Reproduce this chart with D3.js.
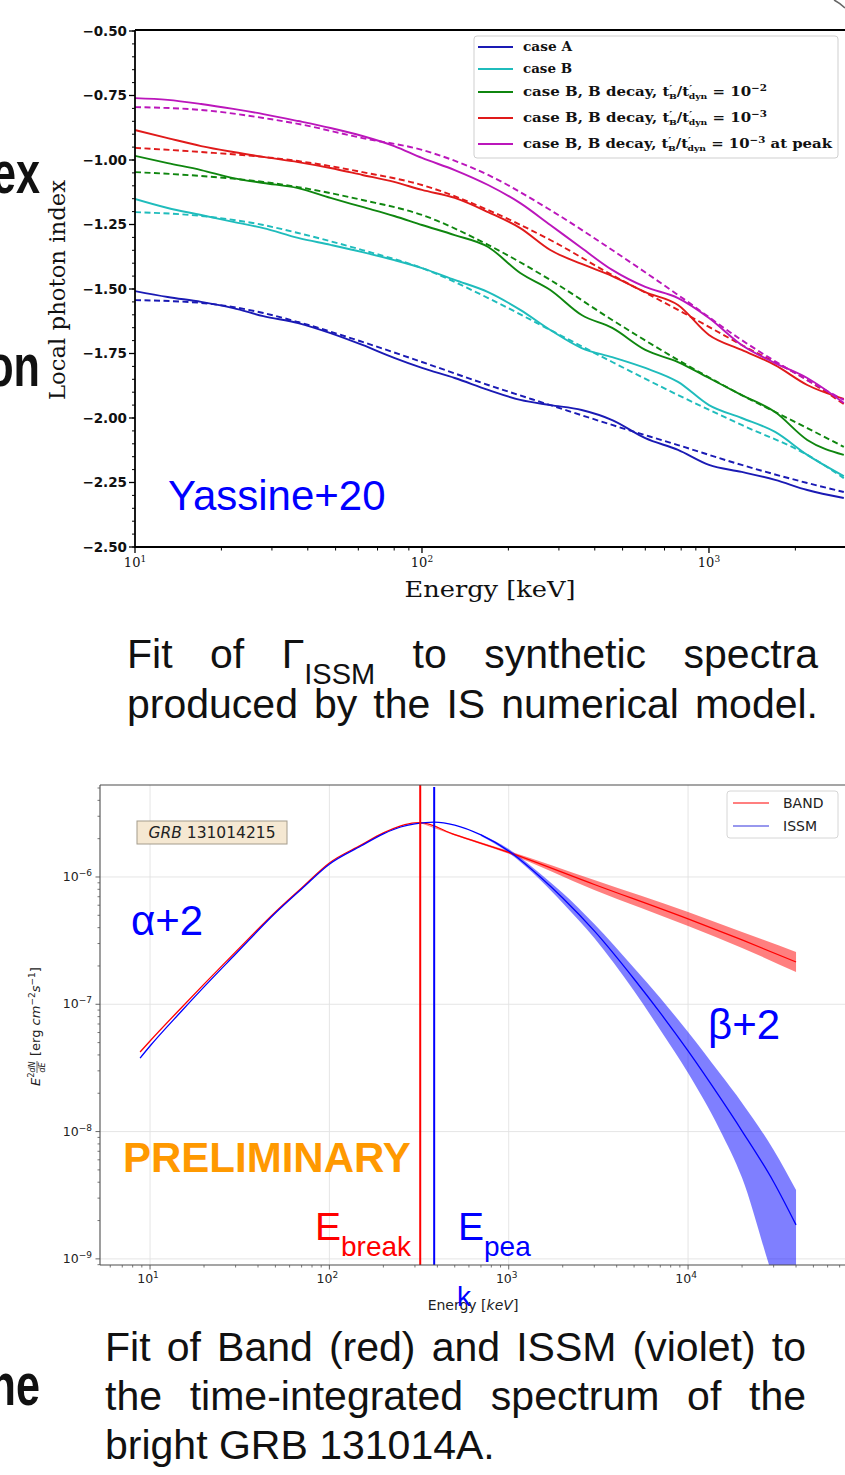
<!DOCTYPE html>
<html>
<head>
<meta charset="utf-8">
<script src="https://cdn.jsdelivr.net/npm/d3@7"></script>
<style>
  body { margin: 0; background: #fff; }
  svg { display: block; }
</style>
</head>
<body>
<svg id="page" width="845" height="1475"></svg>
<script>
// ---------------- Top panel data: local photon index vs energy (keV) ----------------
const simEnergies = [10, 13, 17, 22, 28, 37, 48, 62, 80, 100, 130, 170, 220, 280, 360, 460, 600, 780, 1000, 1300, 1700, 2200, 2950];
const caseA_sim      = [-1.508,-1.531,-1.550,-1.574,-1.605,-1.632,-1.671,-1.717,-1.767,-1.806,-1.845,-1.891,-1.930,-1.950,-1.969,-2.008,-2.078,-2.124,-2.182,-2.209,-2.240,-2.279,-2.310];
const caseB_sim      = [-1.151,-1.186,-1.213,-1.240,-1.264,-1.302,-1.329,-1.357,-1.388,-1.419,-1.465,-1.512,-1.581,-1.659,-1.729,-1.764,-1.806,-1.860,-1.950,-2.000,-2.054,-2.143,-2.225];
const decay2_sim     = [-0.984,-1.012,-1.039,-1.070,-1.089,-1.109,-1.147,-1.182,-1.217,-1.252,-1.291,-1.337,-1.438,-1.504,-1.601,-1.651,-1.736,-1.783,-1.845,-1.911,-1.977,-2.085,-2.143];
const decay3_sim     = [-0.884,-0.915,-0.946,-0.969,-0.988,-1.008,-1.031,-1.058,-1.085,-1.116,-1.147,-1.202,-1.264,-1.349,-1.403,-1.450,-1.512,-1.562,-1.678,-1.736,-1.795,-1.872,-1.926];
const decay3peak_sim = [-0.760,-0.767,-0.783,-0.802,-0.822,-0.849,-0.876,-0.907,-0.946,-0.992,-1.039,-1.097,-1.167,-1.252,-1.341,-1.426,-1.492,-1.535,-1.612,-1.717,-1.787,-1.845,-1.942];

const fitEnergies = [10, 17, 28, 37, 62, 100, 170, 280, 460, 780, 1300, 2200, 2950];
const caseA_fit      = [-1.543,-1.554,-1.593,-1.628,-1.705,-1.783,-1.872,-1.950,-2.027,-2.105,-2.182,-2.252,-2.287];
const caseB_fit      = [-1.202,-1.217,-1.252,-1.283,-1.349,-1.419,-1.535,-1.659,-1.783,-1.911,-2.027,-2.143,-2.233];
const decay2_fit     = [-1.047,-1.062,-1.085,-1.105,-1.155,-1.213,-1.329,-1.465,-1.620,-1.775,-1.911,-2.039,-2.112];
const decay3_fit     = [-0.953,-0.969,-0.988,-1.004,-1.047,-1.097,-1.194,-1.310,-1.446,-1.581,-1.717,-1.853,-1.946];
const decay3peak_fit = [-0.795,-0.806,-0.837,-0.860,-0.915,-0.961,-1.058,-1.194,-1.349,-1.523,-1.698,-1.853,-1.930];

const indexTicks = [-2.5, -2.25, -2.0, -1.75, -1.5, -1.25, -1.0, -0.75, -0.5];
const topEnergyTicks = [10, 100, 1000];

// ---------------- Bottom panel data: E^2 dN/dE (erg cm^-2 s^-1) vs energy (keV) ----------------
const bandEnergies = [8.8, 10, 15, 20, 30, 50, 70, 100, 150, 200, 250, 300, 321, 500, 1000, 3000, 10000, 20000, 40000];
const bandFlux     = [4.22e-8, 5.15e-8, 9.44e-8, 1.44e-7, 2.58e-7, 5.31e-7, 8.2e-7, 1.29e-6, 1.78e-6, 2.22e-6, 2.52e-6, 2.66e-6, 2.67e-6, 2.15e-6, 1.56e-6, 8.73e-7, 4.68e-7, 3.20e-7, 2.15e-7];
const bandErrEnergies = [321, 500, 1000, 3000, 10000, 20000, 40000];
const bandLow  = [2.65e-6, 2.12e-6, 1.52e-6, 7.9e-7, 4.12e-7, 2.77e-7, 1.79e-7];
const bandHigh = [2.69e-6, 2.18e-6, 1.60e-6, 9.47e-7, 5.31e-7, 3.70e-7, 2.58e-7];

const issmEnergies = [8.8, 10, 15, 20, 30, 50, 70, 100, 150, 200, 250, 300, 384, 500, 700, 1000, 1500, 2000, 3000, 5000, 7000, 10000, 15000, 20000, 30000, 40000];
const issmFlux     = [3.78e-8, 4.70e-8, 8.85e-8, 1.37e-7, 2.48e-7, 5.21e-7, 8.05e-7, 1.26e-6, 1.75e-6, 2.18e-6, 2.47e-6, 2.61e-6, 2.70e-6, 2.56e-6, 2.14e-6, 1.60e-6, 1.00e-6, 6.84e-7, 3.77e-7, 1.58e-7, 8.55e-8, 4.30e-8, 1.87e-8, 1.01e-8, 4.02e-9, 1.85e-9];
const issmErrEnergies = [700, 1000, 1500, 2000, 3000, 5000, 7000, 10000, 15000, 20000, 30000, 40000];
const issmLow  = [2.10e-6, 1.55e-6, 9.47e-7, 6.25e-7, 3.32e-7, 1.27e-7, 6.28e-8, 2.88e-8, 1.04e-8, 4.33e-9, 7.0e-10, 2.5e-10];
const issmHigh = [2.18e-6, 1.66e-6, 1.06e-6, 7.48e-7, 4.27e-7, 1.93e-7, 1.12e-7, 6.05e-8, 2.88e-8, 1.68e-8, 7.16e-9, 3.47e-9];

const eBreak = 321;   // keV
const ePeak = 384;    // keV
const fluxTicks = [1e-9, 1e-8, 1e-7, 1e-6];
const bottomEnergyTicks = [10, 100, 1000, 10000];

// ---------------- fonts ----------------
const SANS = "'Liberation Sans', Arial, sans-serif";
const SERIF = "'DejaVu Serif', serif";
const DVS = "'DejaVu Sans', sans-serif";

const svg = d3.select("#page");
const defs = svg.append("defs");
const zip = (xs, ys) => xs.map((x, i) => [x, ys[i]]);

// ============================ TOP PANEL ============================
const xTop = d3.scaleLog().domain([10, 3000]).range([135, 845.9]);
const yTop = d3.scaleLinear().domain([-2.5, -0.5]).range([547, 31]);
const [tx0] = xTop.range();
const [ty1, ty0] = yTop.range();

defs.append("clipPath").attr("id", "clipTop").append("rect")
  .attr("x", tx0).attr("y", ty0).attr("width", 845 - tx0).attr("height", ty1 - ty0);

const topSeries = [
  { name: "case A", color: "#1a1ab4", sim: caseA_sim, fit: caseA_fit },
  { name: "case B", color: "#1fbcbc", sim: caseB_sim, fit: caseB_fit },
  { name: "decay2", color: "#0f860f", sim: decay2_sim, fit: decay2_fit },
  { name: "decay3", color: "#e01a1a", sim: decay3_sim, fit: decay3_fit },
  { name: "decay3peak", color: "#bb16bb", sim: decay3peak_sim, fit: decay3peak_fit }
];

const topLine = d3.line().x(d => xTop(d[0])).y(d => yTop(d[1])).curve(d3.curveMonotoneX);
const topCurves = svg.append("g").attr("clip-path", "url(#clipTop)");
topSeries.forEach(s => {
  topCurves.append("path").attr("d", topLine(zip(simEnergies, s.sim)))
    .attr("fill", "none").attr("stroke", s.color).attr("stroke-width", 1.9);
  topCurves.append("path").attr("d", topLine(zip(fitEnergies, s.fit)))
    .attr("fill", "none").attr("stroke", s.color).attr("stroke-width", 1.9)
    .attr("stroke-dasharray", "6,3.5");
});

// spines
const topAxes = svg.append("g").attr("stroke", "#000").attr("stroke-width", 1.8);
topAxes.append("line").attr("x1", tx0).attr("x2", tx0).attr("y1", ty0 - 1).attr("y2", ty1 + 1);
topAxes.append("line").attr("x1", tx0).attr("x2", 845).attr("y1", ty1).attr("y2", ty1);
topAxes.append("line").attr("x1", tx0).attr("x2", 845).attr("y1", ty0 - 1).attr("y2", ty0 - 1);

// y ticks
const yMinor = d3.range(-2.5, -0.499, 0.05);
svg.append("g").selectAll("line").data(yMinor).join("line")
  .attr("x1", tx0 - 3).attr("x2", tx0).attr("y1", d => yTop(d)).attr("y2", d => yTop(d))
  .attr("stroke", "#000").attr("stroke-width", 1);
svg.append("g").selectAll("line").data(indexTicks).join("line")
  .attr("x1", tx0 - 6).attr("x2", tx0).attr("y1", d => yTop(d)).attr("y2", d => yTop(d))
  .attr("stroke", "#000").attr("stroke-width", 1.3);
svg.append("g").selectAll("text").data(indexTicks).join("text")
  .attr("x", tx0 - 8).attr("y", d => yTop(d)).attr("dy", "0.36em")
  .attr("text-anchor", "end").attr("font-family", DVS).attr("font-weight", "bold")
  .attr("font-size", 13.5).attr("fill", "#111")
  .text(d3.format(".2f"));

// x ticks (log)
const topMinor = [];
[10, 100, 1000].forEach(dec => d3.range(2, 10).forEach(k => { if (dec * k <= 3000) topMinor.push(dec * k); }));
svg.append("g").selectAll("line").data(topMinor).join("line")
  .attr("x1", d => xTop(d)).attr("x2", d => xTop(d)).attr("y1", ty1).attr("y2", ty1 + 3.5)
  .attr("stroke", "#000").attr("stroke-width", 1);
svg.append("g").selectAll("line").data(topEnergyTicks).join("line")
  .attr("x1", d => xTop(d)).attr("x2", d => xTop(d)).attr("y1", ty1).attr("y2", ty1 + 6)
  .attr("stroke", "#000").attr("stroke-width", 1.3);
const topXLabels = svg.append("g").selectAll("text").data(topEnergyTicks).join("text")
  .attr("x", d => xTop(d)).attr("y", 567).attr("text-anchor", "middle")
  .attr("font-family", SERIF).attr("font-size", 13).attr("fill", "#111");
topXLabels.append("tspan").text("10");
topXLabels.append("tspan").attr("dy", -5).attr("font-size", 9).text(d => Math.round(Math.log10(d)));

// axis titles
svg.append("text").attr("x", 490).attr("y", 597).attr("text-anchor", "middle")
  .attr("font-family", SERIF).attr("font-size", 23).attr("fill", "#111")
  .attr("textLength", 171).attr("lengthAdjust", "spacingAndGlyphs").text("Energy [keV]");
svg.append("text").attr("transform", "translate(65,290) rotate(-90)").attr("text-anchor", "middle")
  .attr("font-family", SERIF).attr("font-size", 22).attr("fill", "#111")
  .attr("textLength", 220).attr("lengthAdjust", "spacingAndGlyphs").text("Local photon index");

// legend
const legend = svg.append("g");
legend.append("rect").attr("x", 474).attr("y", 36).attr("width", 364).attr("height", 122)
  .attr("rx", 3).attr("fill", "#fff").attr("fill-opacity", 0.9).attr("stroke", "#cfcfcf");
function ratioLabel(exp, suffix) {
  return [
    { t: "case B, B decay, t" },
    { t: "′", dy: -4, size: 10 },
    { t: "B", dx: -3, dy: 7, size: 8 },
    { t: "/t", dy: -3 },
    { t: "′", dy: -4, size: 10 },
    { t: "dyn", dx: -3, dy: 7, size: 8 },
    { t: " = 10", dy: -3 },
    { t: "−" + exp, dy: -5, size: 9 },
    { t: suffix, dy: 5 }
  ];
}
const legendLabels = [
  [{ t: "case A" }],
  [{ t: "case B" }],
  ratioLabel(2, ""),
  ratioLabel(3, ""),
  ratioLabel(3, " at peak")
];
const legendRowY = [47, 69, 92, 118, 144];
const legendTextWidth = [49, 49, 244, 244, 309];
topSeries.forEach((s, i) => {
  const y = legendRowY[i];
  legend.append("line").attr("x1", 478).attr("x2", 513).attr("y1", y).attr("y2", y)
    .attr("stroke", s.color).attr("stroke-width", 1.9);
  const t = legend.append("text").attr("x", 523).attr("y", y + 4)
    .attr("font-family", SERIF).attr("font-weight", "bold").attr("font-size", 13).attr("fill", "#111")
    .attr("textLength", legendTextWidth[i]).attr("lengthAdjust", "spacingAndGlyphs");
  legendLabels[i].forEach(seg => {
    const sp = t.append("tspan").text(seg.t);
    if (seg.dy) sp.attr("dy", seg.dy);
    if (seg.dx) sp.attr("dx", seg.dx);
    if (seg.size) sp.attr("font-size", seg.size);
  });
});

svg.append("text").attr("x", 168).attr("y", 510).attr("font-family", SANS)
  .attr("font-size", 42).attr("fill", "#0000ff").text("Yassine+20");

// ============================ BOTTOM PANEL ============================
const xBot = d3.scaleLog().domain([5.26, 75000]).range([100, 845]);
const yBot = d3.scaleLog().domain([8.95e-10, 5.28e-6]).range([1265, 785]);
const [bx0] = xBot.range();
const [by1, by0] = yBot.range();

defs.append("clipPath").attr("id", "clipBot").append("rect")
  .attr("x", bx0).attr("y", by0).attr("width", 845 - bx0).attr("height", by1 - by0);

// grid
const grid = svg.append("g").attr("stroke", "#e2e2e2").attr("stroke-width", 0.9);
grid.selectAll(".gx").data(bottomEnergyTicks).join("line")
  .attr("x1", d => xBot(d)).attr("x2", d => xBot(d)).attr("y1", by0).attr("y2", by1);
grid.selectAll(".gy").data(fluxTicks).join("line")
  .attr("x1", bx0).attr("x2", 845).attr("y1", d => yBot(d)).attr("y2", d => yBot(d));

const botCurves = svg.append("g").attr("clip-path", "url(#clipBot)");
const botLine = d3.line().x(d => xBot(d[0])).y(d => yBot(d[1])).curve(d3.curveMonotoneX);
const botArea = d3.area().x(d => xBot(d[0])).y0(d => yBot(d[1])).y1(d => yBot(d[2])).curve(d3.curveMonotoneX);

botCurves.append("path")
  .attr("d", botArea(bandErrEnergies.map((e, i) => [e, bandLow[i], bandHigh[i]])))
  .attr("fill", "#ff0000").attr("fill-opacity", 0.5);
botCurves.append("path")
  .attr("d", botArea(issmErrEnergies.map((e, i) => [e, issmLow[i], issmHigh[i]])))
  .attr("fill", "#0000ff").attr("fill-opacity", 0.5);
botCurves.append("path").attr("d", botLine(zip(bandEnergies, bandFlux)))
  .attr("fill", "none").attr("stroke", "#ff0000").attr("stroke-width", 1.3);
botCurves.append("path").attr("d", botLine(zip(issmEnergies, issmFlux)))
  .attr("fill", "none").attr("stroke", "#0000ff").attr("stroke-width", 1.3);

// break / peak markers
botCurves.append("line").attr("x1", xBot(eBreak)).attr("x2", xBot(eBreak)).attr("y1", by0).attr("y2", by1)
  .attr("stroke", "#ff0000").attr("stroke-width", 2);
botCurves.append("line").attr("x1", xBot(ePeak)).attr("x2", xBot(ePeak)).attr("y1", by0 + 2).attr("y2", by1)
  .attr("stroke", "#0000ff").attr("stroke-width", 2);

// spines
const botAxes = svg.append("g").attr("stroke", "#4d4d4d").attr("stroke-width", 1.1);
botAxes.append("line").attr("x1", bx0).attr("x2", bx0).attr("y1", by0).attr("y2", by1);
botAxes.append("line").attr("x1", bx0).attr("x2", 845).attr("y1", by1).attr("y2", by1);
botAxes.append("line").attr("x1", bx0).attr("x2", 845).attr("y1", by0).attr("y2", by0);

// x ticks
const botXMinor = [];
[1, 10, 100, 1000, 10000].forEach(dec => d3.range(2, 10).forEach(k => {
  const v = dec * k; if (v >= 5.26 && v <= 75000) botXMinor.push(v);
}));
svg.append("g").selectAll("line").data(botXMinor).join("line")
  .attr("x1", d => xBot(d)).attr("x2", d => xBot(d)).attr("y1", by1).attr("y2", by1 + 2.5)
  .attr("stroke", "#555").attr("stroke-width", 0.8);
svg.append("g").selectAll("line").data(bottomEnergyTicks).join("line")
  .attr("x1", d => xBot(d)).attr("x2", d => xBot(d)).attr("y1", by1).attr("y2", by1 + 4.5)
  .attr("stroke", "#555").attr("stroke-width", 0.9);
const botXLabels = svg.append("g").selectAll("text").data(bottomEnergyTicks).join("text")
  .attr("x", d => xBot(d) - 2).attr("y", 1283).attr("text-anchor", "middle")
  .attr("font-family", DVS).attr("font-size", 12.5).attr("fill", "#222");
botXLabels.append("tspan").text("10");
botXLabels.append("tspan").attr("dy", -5).attr("font-size", 9).text(d => Math.round(Math.log10(d)));

// y ticks
const botYMinor = [];
[1e-10, 1e-9, 1e-8, 1e-7, 1e-6].forEach(dec => d3.range(2, 10).forEach(k => {
  const v = dec * k; if (v >= 8.95e-10 && v <= 5.28e-6) botYMinor.push(v);
}));
svg.append("g").selectAll("line").data(botYMinor).join("line")
  .attr("x1", bx0 - 2.5).attr("x2", bx0).attr("y1", d => yBot(d)).attr("y2", d => yBot(d))
  .attr("stroke", "#555").attr("stroke-width", 0.8);
svg.append("g").selectAll("line").data(fluxTicks).join("line")
  .attr("x1", bx0 - 4.5).attr("x2", bx0).attr("y1", d => yBot(d)).attr("y2", d => yBot(d))
  .attr("stroke", "#555").attr("stroke-width", 0.9);
const botYLabels = svg.append("g").selectAll("text").data(fluxTicks).join("text")
  .attr("x", bx0 - 8).attr("y", d => yBot(d) + 4).attr("text-anchor", "end")
  .attr("font-family", DVS).attr("font-size", 12.5).attr("fill", "#222");
botYLabels.append("tspan").text("10");
botYLabels.append("tspan").attr("dy", -5).attr("font-size", 9).text(d => "−" + Math.round(-Math.log10(d)));

// axis titles
const bxTitle = svg.append("text").attr("x", 473).attr("y", 1310).attr("text-anchor", "middle")
  .attr("font-family", DVS).attr("font-size", 14).attr("fill", "#222");
bxTitle.append("tspan").text("Energy [");
bxTitle.append("tspan").attr("font-style", "italic").text("keV");
bxTitle.append("tspan").text("]");

const byTitle = svg.append("g").attr("transform", "translate(40,1022) rotate(-90)")
  .attr("font-family", DVS).attr("fill", "#222");
byTitle.append("text").attr("x", -64).attr("y", 0).attr("font-size", 13).attr("font-style", "italic").text("E");
byTitle.append("text").attr("x", -55.5).attr("y", -6).attr("font-size", 8).text("2");
byTitle.append("text").attr("x", -50.5).attr("y", -5).attr("font-size", 8).attr("font-style", "italic").text("dN");
byTitle.append("line").attr("x1", -51).attr("x2", -39).attr("y1", -3).attr("y2", -3).attr("stroke", "#222").attr("stroke-width", 0.7);
byTitle.append("text").attr("x", -50.5).attr("y", 5).attr("font-size", 8).attr("font-style", "italic").text("dE");
const unitT = byTitle.append("text").attr("x", -34).attr("y", 0).attr("font-size", 13);
unitT.append("tspan").text("[erg ");
unitT.append("tspan").attr("font-style", "italic").text("cm");
unitT.append("tspan").attr("dy", -5).attr("font-size", 9).text("−2");
unitT.append("tspan").attr("dy", 5).attr("font-style", "italic").text("s");
unitT.append("tspan").attr("dy", -5).attr("font-size", 9).text("−1");
unitT.append("tspan").attr("dy", 5).text("]");

// legend
const botLegend = svg.append("g");
botLegend.append("rect").attr("x", 727).attr("y", 791).attr("width", 111).attr("height", 47)
  .attr("rx", 3).attr("fill", "#fff").attr("stroke", "#d6d6d6");
[["BAND", "#ff0000", 803], ["ISSM", "#3333dd", 826]].forEach(([label, col, y]) => {
  botLegend.append("line").attr("x1", 733).attr("x2", 769).attr("y1", y).attr("y2", y)
    .attr("stroke", col).attr("stroke-width", 1.2);
  botLegend.append("text").attr("x", 783).attr("y", y + 5).attr("font-family", DVS)
    .attr("font-size", 14).attr("fill", "#222").text(label);
});

// GRB tag
svg.append("rect").attr("x", 137).attr("y", 821).attr("width", 150).attr("height", 23)
  .attr("fill", "#f5e8d2").attr("stroke", "#a49c8c").attr("stroke-width", 1);
const grb = svg.append("text").attr("x", 212).attr("y", 838).attr("text-anchor", "middle")
  .attr("font-family", DVS).attr("font-size", 15.5).attr("fill", "#222");
grb.append("tspan").attr("font-style", "italic").text("GRB");
grb.append("tspan").text(" 131014215");

// annotations
svg.append("text").attr("x", 131).attr("y", 935).attr("font-family", SANS).attr("font-size", 42)
  .attr("fill", "#0000ff").text("α+2");
svg.append("text").attr("x", 708).attr("y", 1039).attr("font-family", SANS).attr("font-size", 42)
  .attr("fill", "#0000ff").text("β+2");
svg.append("text").attr("x", 123).attr("y", 1172).attr("font-family", SANS).attr("font-size", 42)
  .attr("font-weight", "bold").attr("fill", "#ff9900").text("PRELIMINARY");
const eb = svg.append("text").attr("x", 315).attr("y", 1240).attr("font-family", SANS)
  .attr("font-size", 39).attr("fill", "#ff0000");
eb.append("tspan").text("E");
eb.append("tspan").attr("dy", 16).attr("font-size", 28).text("break");
const ep = svg.append("text").attr("x", 458).attr("y", 1240).attr("font-family", SANS)
  .attr("font-size", 39).attr("fill", "#0000ff");
ep.append("tspan").text("E");
ep.append("tspan").attr("dy", 16).attr("font-size", 28).text("pea");
svg.append("text").attr("x", 457).attr("y", 1306).attr("font-family", SANS)
  .attr("font-size", 28).attr("fill", "#0000ff").text("k");

// ============================ CAPTIONS & SLIDE TEXT ============================
function justified(words, x0, x1, y, size) {
  const g = svg.append("g");
  const items = words.map(w => {
    const t = g.append("text").attr("y", y).attr("font-family", SANS).attr("font-size", size).attr("fill", "#111");
    (Array.isArray(w) ? w : [{ t: w }]).forEach(seg => {
      const sp = t.append("tspan").text(seg.t);
      if (seg.dy) sp.attr("dy", seg.dy);
      if (seg.size) sp.attr("font-size", seg.size);
    });
    return t;
  });
  const widths = items.map(t => t.node().getComputedTextLength());
  const gap = (x1 - x0 - d3.sum(widths)) / (items.length - 1);
  let x = x0;
  items.forEach((t, i) => { t.attr("x", x); x += widths[i] + gap; });
}
justified(["Fit", "of", [{ t: "Γ" }, { t: "ISSM", dy: 16, size: 29 }], "to", "synthetic", "spectra"], 127, 818, 668, 41);
justified("produced by the IS numerical model.".split(" "), 127, 818, 718, 41);
justified("Fit of Band (red) and ISSM (violet) to".split(" "), 105, 806, 1361, 41);
justified("the time-integrated spectrum of the".split(" "), 105, 806, 1410, 41);
svg.append("text").attr("x", 105).attr("y", 1459).attr("font-family", SANS).attr("font-size", 41)
  .attr("fill", "#111").text("bright GRB 131014A.");

// slide title fragments at the left border
[["ex", 193], ["on", 386], ["ne", 1405]].forEach(([w, y]) => {
  svg.append("text").attr("transform", `translate(40,${y}) scale(0.72,1)`).attr("text-anchor", "end")
    .attr("font-family", SANS).attr("font-weight", "bold").attr("font-size", 60).attr("fill", "#111").text(w);
});

// rounded corner stroke in the upper right
svg.append("path").attr("d", "M834,0 Q840,3 845,8").attr("fill", "none").attr("stroke", "#666").attr("stroke-width", 1.5);
</script>
</body>
</html>
